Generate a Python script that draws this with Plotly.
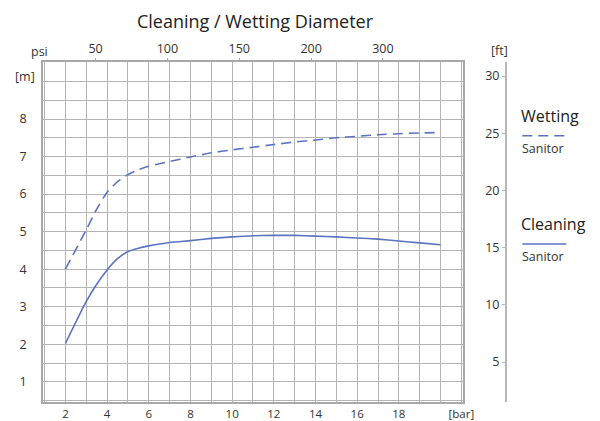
import plotly.graph_objects as go

# ---- data ----
pressure_bar = [2, 3, 3.5, 4, 4.5, 5, 5.5, 6, 7, 8, 9, 10, 11, 12, 13, 14, 15, 16, 17, 18, 19, 20]
cleaning_m = [2.02, 3.14, 3.6, 3.98, 4.28, 4.47, 4.56, 4.62, 4.71, 4.76, 4.82, 4.86, 4.89, 4.9, 4.9,
              4.88, 4.86, 4.83, 4.8, 4.75, 4.7, 4.65]
wetting_m = [4.0, 5.05, 5.6, 6.05, 6.33, 6.52, 6.65, 6.74, 6.87, 6.99, 7.1, 7.18, 7.25, 7.32, 7.39,
             7.44, 7.5, 7.54, 7.58, 7.61, 7.63, 7.64]

bar_tick_vals = list(range(1, 22))
bar_tick_text = ["", "2", "", "4", "", "6", "", "8", "", "10", "", "12", "", "14", "", "16", "", "18", "", "", "[bar]"]
psi_tick_pos_psi = [50, 100, 150, 200, 250]
psi_tick_text = ["50", "100", "150", "200", "300"]
ft_tick_vals = [5, 10, 15, 20, 25, 30]

PSI_PER_BAR = 14.5038
FT_PER_M = 3.28084

# ---- geometry (page body has an 8px margin) ----
OFF = 8
W, H = 600 - OFF, 421 - OFF
PLOT_L, PLOT_R, PLOT_T, PLOT_B = 43.3, 462.3, 62.3, 402.3   # reference pixels
FT_AXIS_X = 505.7
ML, MT = PLOT_L - OFF, PLOT_T - OFF
PW, PH = FT_AXIS_X - PLOT_L, PLOT_B - PLOT_T
MR, MB = W - ML - PW, H - MT - PH
XDOM_END = (PLOT_R - PLOT_L) / PW

def px_x(px):
    return (px - PLOT_L) / PW

def px_y(py):
    return 1 - (py - PLOT_T) / PH

XR = [0.924, 21.057]
YR = [0.461, 9.52]

LINE_COL = "#5b74c2"
GRID_COL = "#b4b4b4"
BORDER_COL = "#a8a8a8"
TXT = "#333333"
FONT = "Open Sans"

fig = go.Figure()
fig.add_trace(go.Scatter(x=pressure_bar, y=wetting_m, mode="lines",
                         line=dict(color=LINE_COL, width=1.6, dash="10px,6px", shape="spline", smoothing=0.5),
                         showlegend=False, hoverinfo="skip"))
fig.add_trace(go.Scatter(x=pressure_bar, y=cleaning_m, mode="lines",
                         line=dict(color=LINE_COL, width=1.6, shape="spline", smoothing=0.5),
                         showlegend=False, hoverinfo="skip"))
# invisible traces to activate secondary axes
fig.add_trace(go.Scatter(x=[None], y=[None], xaxis="x2", yaxis="y", showlegend=False, hoverinfo="skip"))
fig.add_trace(go.Scatter(x=[None], y=[None], xaxis="x", yaxis="y2", showlegend=False, hoverinfo="skip"))

y_half_vals = [0.5 * i for i in range(1, 20)]
y_half_text = [(str(int(v)) if v == int(v) and 1 <= v <= 8 else "") for v in y_half_vals]

fig.update_layout(
    width=W, height=H,
    margin=dict(l=ML, r=MR, t=MT, b=MB, autoexpand=False),
    paper_bgcolor="white", plot_bgcolor="white",
    font=dict(family=FONT, size=12, color=TXT),
    title=dict(text="Cleaning / Wetting Diameter", x=(255 - OFF) / W, xanchor="center", xref="container",
               y=1 - (22 - OFF) / H, yanchor="middle", yref="container", font=dict(size=18, color="#222222")),
    xaxis=dict(domain=[0, XDOM_END], range=XR, tickmode="array", tickvals=bar_tick_vals, ticktext=bar_tick_text,
               showgrid=True, gridcolor=GRID_COL, gridwidth=1, zeroline=False, automargin=False,
               showline=True, linecolor=BORDER_COL, linewidth=1.5, mirror=True,
               ticks="", tickfont=dict(size=11.5, color=TXT)),
    xaxis2=dict(overlaying="x", side="top", range=XR, anchor="y", automargin=False,
                tickmode="array", tickvals=[p / PSI_PER_BAR for p in psi_tick_pos_psi], ticktext=psi_tick_text,
                showgrid=False, zeroline=False, ticks="outside", ticklen=3, tickcolor=BORDER_COL,
                tickfont=dict(size=12.5, color=TXT)),
    yaxis=dict(domain=[0, 1], range=YR, tickmode="array", tickvals=y_half_vals, ticktext=y_half_text,
               showgrid=True, gridcolor=GRID_COL, gridwidth=1, zeroline=False, automargin=False,
               showline=True, linecolor=BORDER_COL, linewidth=1.5, mirror=True,
               ticks="outside", ticklen=12, tickcolor="rgba(0,0,0,0)", tickfont=dict(size=12.5, color=TXT)),
    yaxis2=dict(overlaying="y", anchor="free", position=1.0, side="left", automargin=False,
                range=[YR[0] * FT_PER_M, YR[1] * FT_PER_M], tickmode="array", tickvals=ft_tick_vals,
                showgrid=False, zeroline=False, showline=True, linecolor="#b8b8b8", linewidth=2,
                ticks="outside", ticklen=3, tickcolor="#b8b8b8", tickfont=dict(size=12.5, color=TXT)),
)

ann = [
    dict(text="psi", x=px_x(40), y=px_y(51.5)),
    dict(text="[m]", x=px_x(25), y=px_y(76.5)),
    dict(text="[ft]", x=px_x(499), y=px_y(51)),
]
for a in ann:
    fig.add_annotation(xref="paper", yref="paper", showarrow=False, xanchor="center", yanchor="middle",
                       font=dict(size=12.5, color=TXT), **a)

legend_items = [
    ("Wetting", 116.7, 136, 148.3, "10px,6px"),
    ("Cleaning", 224.3, 244.3, 256.7, "solid"),
]
for name, ty, ly, sy, dash in legend_items:
    fig.add_annotation(xref="paper", yref="paper", showarrow=False, xanchor="left", yanchor="middle",
                       x=px_x(519), y=px_y(ty), text=name, font=dict(size=16, color="#222222"))
    fig.add_shape(type="line", xref="paper", yref="paper", x0=px_x(522), x1=px_x(566), y0=px_y(ly), y1=px_y(ly),
                  line=dict(color=LINE_COL, width=1.5, dash=dash))
    fig.add_annotation(xref="paper", yref="paper", showarrow=False, xanchor="left", yanchor="middle",
                       x=px_x(520), y=px_y(sy), text="Sanitor", font=dict(size=12.5, color="#333333"))

fig.write_html("out.html")
